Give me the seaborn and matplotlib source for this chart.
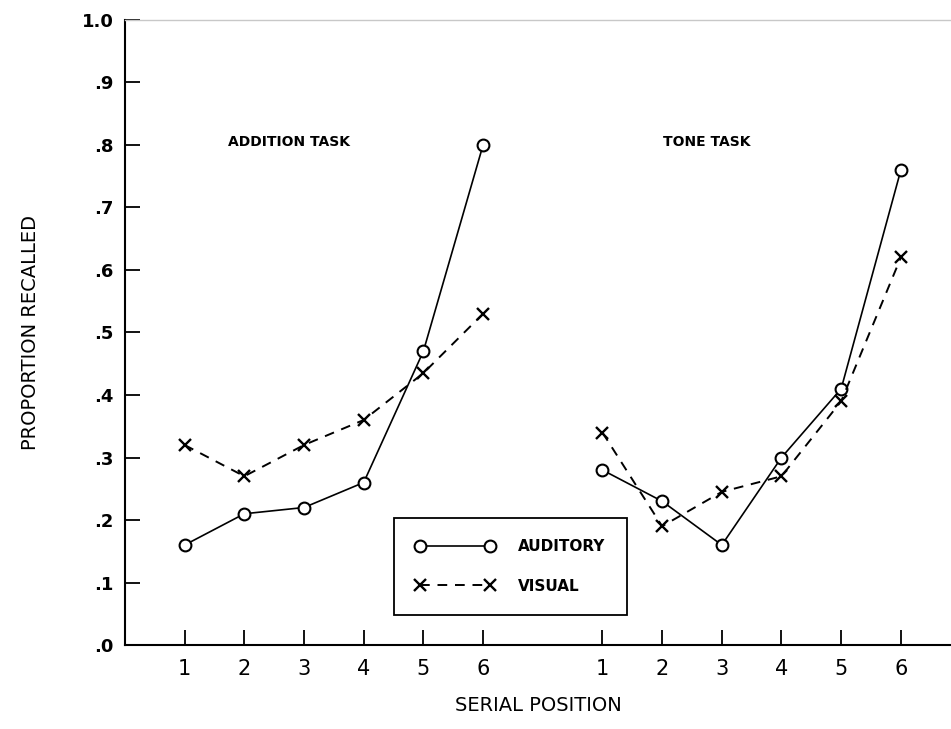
import numpy as np
import pandas as pd
import matplotlib
matplotlib.use('Agg')
import matplotlib.pyplot as plt
import seaborn as sns

# ============================================================
# DATA
# ============================================================

positions = [1, 2, 3, 4, 5, 6]
tasks = ['ADDITION TASK', 'TONE TASK']
task_offset = {'ADDITION TASK': 0, 'TONE TASK': 7}

addition_auditory = [0.16, 0.21, 0.22, 0.26, 0.47, 0.80]
addition_visual = [0.32, 0.27, 0.32, 0.36, 0.435, 0.53]
tone_auditory = [0.28, 0.23, 0.16, 0.30, 0.41, 0.76]
tone_visual = [0.34, 0.19, 0.245, 0.27, 0.39, 0.62]

y_ticks = [0.0, 0.1, 0.2, 0.3, 0.4, 0.5, 0.6, 0.7, 0.8, 0.9, 1.0]
y_labels = ['.0', '.1', '.2', '.3', '.4', '.5', '.6', '.7', '.8', '.9', '1.0']

rows = []
for task, aud, vis in [('ADDITION TASK', addition_auditory, addition_visual),
                       ('TONE TASK', tone_auditory, tone_visual)]:
    for p, a, v in zip(positions, aud, vis):
        rows.append({'task': task, 'pos': p, 'x': p + task_offset[task],
                     'mode': 'AUDITORY', 'recalled': a})
        rows.append({'task': task, 'pos': p, 'x': p + task_offset[task],
                     'mode': 'VISUAL', 'recalled': v})
df = pd.DataFrame(rows)

# ============================================================
# PLOT
# ============================================================

sns.set_theme(style='ticks')
plt.rcParams['font.family'] = ['DejaVu Sans']
plt.rcParams['text.color'] = 'black'
plt.rcParams['axes.labelcolor'] = 'black'

fig = plt.figure(figsize=(9.51, 7.29), dpi=100)
ax = fig.add_axes([0.1314, 0.1152, 0.8686, 0.8574])

handles = {}
for task in tasks:
    sub = df[df['task'] == task]
    aud = sub[sub['mode'] == 'AUDITORY']
    vis = sub[sub['mode'] == 'VISUAL']
    sns.lineplot(data=aud, x='x', y='recalled', ax=ax, color='black',
                 linewidth=1.2, marker='o', markersize=8.5,
                 markerfacecolor='white', markeredgecolor='black',
                 markeredgewidth=1.5, linestyle='-')
    handles['AUDITORY'] = ax.lines[-1]
    sns.lineplot(data=vis, x='x', y='recalled', ax=ax, color='black',
                 linewidth=1.4, marker='x', markersize=9,
                 markeredgecolor='black', markeredgewidth=1.7,
                 linestyle=(0, (5, 4)))
    handles['VISUAL'] = ax.lines[-1]

ax.set_xlim(0, 13.84)
ax.set_ylim(0, 1.0)

xt = [p + task_offset[t] for t in tasks for p in positions]
ax.set_xticks(xt)
ax.set_xticklabels([str(p) for t in tasks for p in positions], fontsize=15)
ax.set_yticks(y_ticks)
ax.set_yticklabels(y_labels, fontsize=13, fontweight='bold')
ax.tick_params(axis='x', direction='in', length=11, width=1.3, pad=10,
               colors='black')
ax.tick_params(axis='y', direction='in', length=11, width=1.3, pad=8,
               colors='black')

for side in ['left', 'bottom']:
    ax.spines[side].set_linewidth(1.5)
    ax.spines[side].set_color('black')
ax.spines['top'].set_color('#c8c8c8')
ax.spines['top'].set_linewidth(1.0)
ax.spines['right'].set_visible(False)

ax.set_xlabel('SERIAL POSITION', fontsize=14, labelpad=12)
ax.set_ylabel('PROPORTION RECALLED', fontsize=14, labelpad=30)

for task in tasks:
    ax.text(3.5 + task_offset[task] - 0.75, 0.805, task, fontsize=10,
            fontweight='bold', ha='center', va='center')

leg = ax.legend([handles['AUDITORY'], handles['VISUAL']], ['AUDITORY', 'VISUAL'],
                loc='lower left', bbox_to_anchor=(0.326, 0.048),
                borderaxespad=0, numpoints=2, handlelength=5.2,
                handletextpad=1.5, labelspacing=1.6, borderpad=1.4,
                fancybox=False, edgecolor='black', framealpha=1,
                prop={'weight': 'bold', 'size': 11})
leg.get_frame().set_linewidth(1.3)

fig.savefig('out.png', dpi=100)
plt.close()
